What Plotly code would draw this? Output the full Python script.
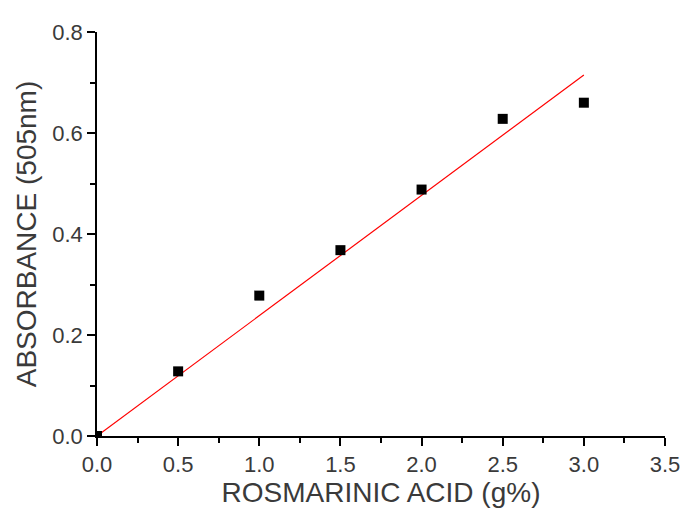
import numpy as np
import plotly.graph_objects as go

conc = [0.0, 0.5, 1.0, 1.5, 2.0, 2.5, 3.0]
absorbance = [0.0, 0.128, 0.278, 0.368, 0.488, 0.628, 0.66]
x_ticks = [0.0, 0.5, 1.0, 1.5, 2.0, 2.5, 3.0, 3.5]
y_ticks = [0.0, 0.2, 0.4, 0.6, 0.8]

xa = np.array(conc)
ya = np.array(absorbance)
slope = float((xa * ya).sum() / (xa * xa).sum())
fit_x = [min(conc), max(conc)]
fit_y = [slope * v for v in fit_x]

fig = go.Figure()
fig.add_trace(go.Scatter(x=fit_x, y=fit_y, mode="lines",
                         line=dict(color="#ff0000", width=1.2), showlegend=False))
fig.add_trace(go.Scatter(x=conc, y=absorbance, mode="markers",
                         marker=dict(symbol="square", size=10, color="black"),
                         showlegend=False))

font_family = "Liberation Sans, Arial, sans-serif"
txt = "#3a3a3a"
fig.update_layout(
    width=698, height=515,
    margin=dict(l=89, r=41, t=17, b=87),
    plot_bgcolor="white", paper_bgcolor="white",
    font=dict(family=font_family, color=txt),
    xaxis=dict(range=[0, 3.5], tickvals=x_ticks, tickformat=".1f",
               showgrid=False, zeroline=False, showline=True, linecolor="black",
               linewidth=1.5, ticks="outside", ticklen=8, tickwidth=1.5,
               tickcolor="black", tickfont=dict(size=22, color=txt),
               minor=dict(ticks="outside", ticklen=5, tickwidth=1.5, tickcolor="black",
                          dtick=0.25, showgrid=False),
               title=dict(text="ROSMARINIC ACID (g%)", font=dict(size=28, color=txt),
                          standoff=3)),
    yaxis=dict(range=[0, 0.8], tickvals=y_ticks, tickformat=".1f",
               showgrid=False, zeroline=False, showline=True, linecolor="black",
               linewidth=1.5, ticks="outside", ticklen=8, tickwidth=1.5,
               tickcolor="black", tickfont=dict(size=22, color=txt),
               minor=dict(ticks="outside", ticklen=5, tickwidth=1.5, tickcolor="black",
                          dtick=0.1, showgrid=False),
               title=dict(text="ABSORBANCE (505nm)", font=dict(size=28, color=txt),
                          standoff=7)),
)
fig.write_html("out.html")
